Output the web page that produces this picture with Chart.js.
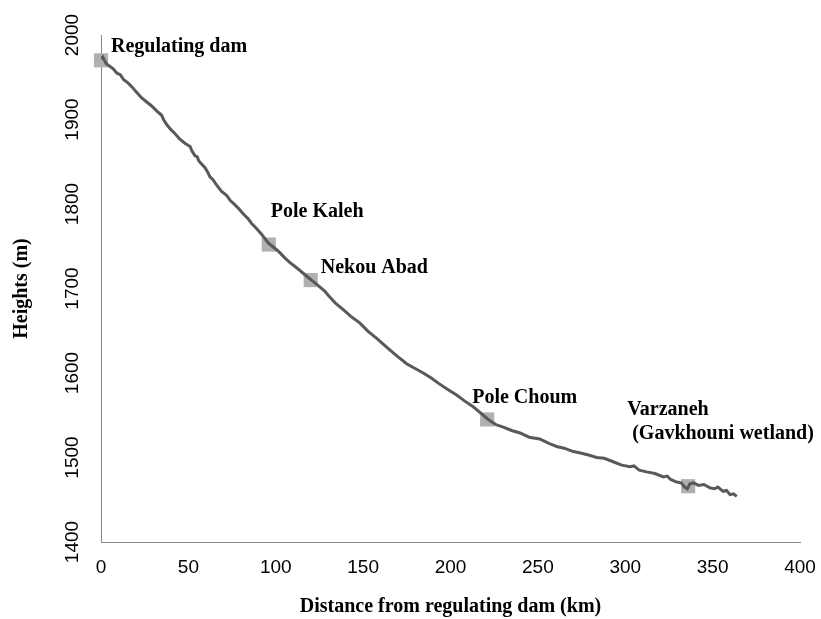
<!DOCTYPE html>
<html>
<head>
<meta charset="utf-8">
<script src="https://cdn.jsdelivr.net/npm/chart.js@4"></script>
<style>
  html, body { margin: 0; padding: 0; background: #fff; }
</style>
</head>
<body>
<canvas id="profile" width="821" height="619"></canvas>
<script>
// river bed profile: distance (km) and height (m)
var distKm = [0, 1, 3, 5, 7, 9, 11, 13, 15.6, 18, 20, 23, 26, 29, 32, 34.7, 36, 37.6, 40, 42,
  45, 48, 51, 52, 53.8, 55, 56, 59.5, 61, 62.4, 64, 66, 69, 72, 74, 76.7, 79, 82, 84, 86.2,
  89, 92, 95.7, 98, 101, 103, 105.3, 108, 111, 114, 118.6, 121, 124, 128, 130, 134, 138.6, 143, 148.2, 153,
  157.8, 161, 165.4, 170, 174.9, 180, 184.4, 189, 193, 198, 203.5, 208, 213, 217, 221.6, 226, 230.2, 235, 239.8, 245,
  251, 254, 257, 260.8, 265, 270.3, 275, 279, 283.6, 288, 293.1, 298, 302.7, 305, 308, 312.2, 317, 321.8, 324, 326,
  329.4, 332, 334, 335.5, 337, 339, 342, 345, 348.5, 351, 353, 356, 358, 360, 362, 363.8];
var heightM = [1972, 1974, 1966, 1963, 1960, 1955, 1953, 1947, 1943, 1938, 1933, 1926, 1921, 1916, 1910, 1905, 1899, 1894, 1888, 1884,
  1877, 1872, 1868, 1863, 1857, 1856, 1851, 1843, 1838, 1832, 1829, 1823, 1815, 1810, 1804, 1799, 1794, 1787, 1783, 1777,
  1771, 1764, 1754, 1750, 1745, 1741, 1736, 1731, 1726, 1721, 1713, 1709, 1704, 1697, 1692, 1683, 1675, 1667, 1659, 1649,
  1641, 1635, 1627, 1619, 1611, 1605, 1600, 1594, 1588, 1581, 1574, 1567, 1560, 1553, 1545, 1539, 1536, 1532, 1529, 1524,
  1522, 1519, 1516, 1513, 1511, 1507, 1505, 1503, 1500, 1499, 1495, 1491, 1489, 1490, 1485, 1483, 1481, 1477, 1478, 1474,
  1471, 1470, 1465, 1463, 1469, 1470, 1467, 1468, 1464, 1463, 1465, 1460, 1461, 1456, 1457, 1454];

// stations along the river
var stationNames = ['Regulating dam', 'Pole Kaleh', 'Nekou Abad', 'Pole Choum', 'Varzaneh\n (Gavkhouni wetland)'];
var stationKm = [0, 96, 120, 221, 336];
var stationHeight = [1970, 1752, 1710, 1545, 1466];

var xTicks = [0, 50, 100, 150, 200, 250, 300, 350, 400];
var yTicks = [1400, 1500, 1600, 1700, 1800, 1900, 2000];

// where each station name sits relative to its marker
var nameOffsets = [[10, -14], [2, -33], [10, -12], [-15, -22], [-61, -76]];

var profilePoints = distKm.map(function (d, i) { return { x: d, y: heightM[i] }; });
var stationPoints = stationKm.map(function (d, i) { return { x: d, y: stationHeight[i] }; });

var stationText = {
  id: 'stationText',
  afterDatasetsDraw: function (chart) {
    var ctx = chart.ctx;
    var xs = chart.scales.x, ys = chart.scales.y;
    ctx.save();
    // vertical height labels
    ctx.font = '19px "Liberation Sans", Arial, sans-serif';
    ctx.fillStyle = '#000';
    ctx.textAlign = 'center';
    ctx.textBaseline = 'middle';
    yTicks.forEach(function (v) {
      ctx.save();
      ctx.translate(xs.left - 28, ys.getPixelForValue(v));
      ctx.rotate(-Math.PI / 2);
      ctx.fillText(String(v), 0, 0);
      ctx.restore();
    });
    // station names
    ctx.font = 'bold 20px "Liberation Serif", "Times New Roman", serif';
    ctx.textAlign = 'left';
    stationNames.forEach(function (name, i) {
      var px = xs.getPixelForValue(stationKm[i]) + nameOffsets[i][0];
      var py = ys.getPixelForValue(stationHeight[i]) + nameOffsets[i][1];
      name.split('\n').forEach(function (line, j) {
        ctx.fillText(line, px, py + j * 24);
      });
    });
    ctx.restore();
  }
};

new Chart(document.getElementById('profile').getContext('2d'), {
  type: 'line',
  data: {
    datasets: [
      {
        label: 'Profile',
        data: profilePoints,
        borderColor: '#595959',
        borderWidth: 3,
        pointRadius: 0,
        tension: 0,
        fill: false,
        order: 0
      },
      {
        label: 'Stations',
        type: 'scatter',
        data: stationPoints,
        pointStyle: 'rect',
        pointRadius: 10,
        pointBackgroundColor: '#b0b0b0',
        pointBorderColor: '#b0b0b0',
        pointBorderWidth: 0,
        clip: false,
        order: 1
      }
    ]
  },
  options: {
    responsive: false,
    animation: false,
    layout: { padding: { top: 35, right: 21, bottom: 0, left: 0 } },
    plugins: {
      legend: { display: false },
      tooltip: { enabled: false }
    },
    scales: {
      x: {
        type: 'linear',
        min: 0,
        max: 400,
        afterBuildTicks: function (s) { s.ticks = xTicks.map(function (v) { return { value: v }; }); },
        afterFit: function (s) { s.height = 77; s.paddingLeft = 0; s.paddingRight = 0; },
        grid: { display: false, drawTicks: false },
        border: { display: true, color: '#868686', width: 1 },
        ticks: {
          padding: 14,
          color: '#000',
          font: { family: '"Liberation Sans", Arial, sans-serif', size: 19 }
        },
        title: {
          display: true,
          text: 'Distance from regulating dam (km)',
          color: '#000',
          padding: { top: 0, bottom: 0 },
          font: { family: '"Liberation Serif", "Times New Roman", serif', size: 20, weight: 'bold' }
        }
      },
      y: {
        type: 'linear',
        min: 1400,
        max: 2000,
        afterBuildTicks: function (s) { s.ticks = yTicks.map(function (v) { return { value: v }; }); },
        afterFit: function (s) { s.width = 101; },
        grid: { display: false, drawTicks: false },
        border: { display: true, color: '#868686', width: 1 },
        ticks: { display: false },
        title: {
          display: true,
          text: 'Heights (m)',
          color: '#000',
          padding: { top: 10, bottom: 0 },
          font: { family: '"Liberation Serif", "Times New Roman", serif', size: 20, weight: 'bold' }
        }
      }
    }
  },
  plugins: [stationText]
});
</script>
</body>
</html>
